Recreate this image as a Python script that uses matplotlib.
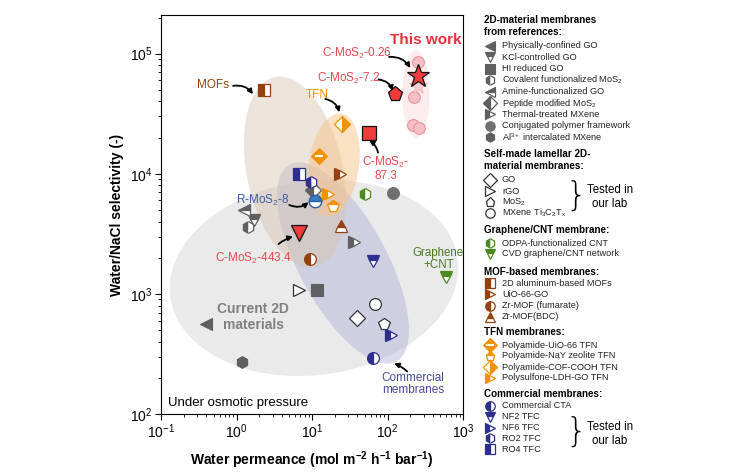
import numpy as np
import matplotlib
matplotlib.use("Agg")
import matplotlib.pyplot as plt
from matplotlib.patches import Polygon

plt.rcParams['font.family'] = ['Liberation Sans', 'DejaVu Sans']
plt.rcParams['mathtext.fontset'] = 'custom'
plt.rcParams['mathtext.rm'] = 'Liberation Sans'
plt.rcParams['mathtext.it'] = 'Liberation Sans:italic'
plt.rcParams['mathtext.bf'] = 'Liberation Sans:bold'
plt.rcParams['mathtext.default'] = 'regular'

# water permeance (mol m-2 h-1 bar-1) vs water/NaCl selectivity, one point per membrane
names = ["Physically-confined GO", "KCl-controlled GO", "HI reduced GO",
         "Covalent functionalized MoS$_2$", "Amine-functionalized GO",
         "Peptide modified MoS$_2$", "Thermal-treated MXene",
         "Conjugated polymer framework", "Al$^{3+}$ intercalated MXene",
         "GO", "rGO", "MoS$_2$", "MXene Ti$_3$C$_2$T$_x$",
         "ODPA-functionalized CNT", "CVD graphene/CNT network",
         "2D aluminum-based MOFs", "UiO-66-GO", "Zr-MOF (fumarate)", "Zr-MOF(BDC)",
         "Polyamide-UiO-66 TFN", "Polyamide-NaY zeolite TFN",
         "Polyamide-COF-COOH TFN", "Polysulfone-LDH-GO TFN",
         "Commercial CTA", "NF2 TFC", "NF6 TFC", "RO2 TFC", "RO4 TFC"]
perm = [0.40, 1.72, 11.5, 1.42, 1.27, 10.2, 36, 117, 1.18,
        40, 6.8, 91, 68,
        51, 594,
        2.3, 23.5, 9.4, 24.4,
        12.3, 19, 25, 16.4,
        64, 64, 110, 9.8, 6.8]
sel = [557, 4100, 1080, 3600, 5000, 7400, 2700, 6900, 270,
       630, 1080, 557, 820,
       6800, 1370,
       50000, 10000, 1950, 3700,
       14000, 5400, 26000, 6800,
       290, 1870, 456, 8500, 10000]

# this work (C-MoS2 / R-MoS2 membranes)
cmos_labels = ["C-MoS2-0.26", "C-MoS2-7.2", "C-MoS2-87.3", "C-MoS2-443.4"]
cmos_perm = [250, 126, 57, 6.8]
cmos_sel = [65000, 46000, 22000, 3200]
rmos_perm = [11.1]
rmos_sel = [5900]
work_circ_perm = [255, 225, 215, 263]
work_circ_sel = [86000, 44000, 25600, 24000]
work_star2_perm = [255]
work_star2_sel = [54000]

GREY = '#5f5f5f'
BROWN = '#93420f'
ORANGE = '#f39200'
BLUE = '#2e2f8c'
GREEN = '#4e8a22'
RED = '#ef3b3b'

# marker, colour, fillstyle ('full', 'left', 'none' = open white)
styles = [('<', GREY, 'full'), ('v', GREY, 'top'), ('s', GREY, 'full'),
          ('h', GREY, 'left'), ('<', GREY, 'top'), ('D', GREY, 'left'),
          ('>', GREY, 'left'), ('o', '#707070', 'full'), ('h', GREY, 'full'),
          ('D', None, 'none'), ('>', None, 'none'), ('p', None, 'none'), ('o', None, 'none'),
          ('h', GREEN, 'left'), ('v', GREEN, 'top'),
          ('s', BROWN, 'left'), ('>', BROWN, 'left'), ('o', BROWN, 'left'), ('^', BROWN, 'top'),
          ('D', ORANGE, 'stripe'), ('p', ORANGE, 'top'), ('D', ORANGE, 'right'), ('>', ORANGE, 'left'),
          ('o', BLUE, 'left'), ('v', BLUE, 'top'), ('>', BLUE, 'left'), ('h', BLUE, 'left'),
          ('s', BLUE, 'left')]


def draw_marker(ax, x, y, style, ms, z=5):
    m, c, fs = style
    if fs == 'none':
        ax.plot(x, y, m, ms=ms, mfc='white', mec='#333333', mew=0.9, zorder=z)
    elif fs == 'full':
        ax.plot(x, y, m, ms=ms, mfc=c, mec=c, mew=0.8, zorder=z)
    elif fs == 'stripe':
        ax.plot(x, y, m, ms=ms, mfc=c, mec=c, mew=0.8, zorder=z)
        ax.plot(x, y, '_', ms=ms * 0.75, mec='white', mew=1.5, zorder=z + 0.1)
    else:
        ax.plot(x, y, m, ms=ms, fillstyle=fs, mfc=c, mfcalt='white', mec=c, mew=0.9, zorder=z)


fig = plt.figure(figsize=(7.45, 4.75), dpi=100)
ax = fig.add_axes([161 / 745, 61 / 475, 302 / 745, 399 / 475])
ax.set_xscale('log')
ax.set_yscale('log')
ax.set_xlim(0.1, 1000)
ax.set_ylim(100, 2.1e5)

# shaded regions (in axes pixels from the lower-left corner)
W = 302.0
H = 399.0
blobs = [((153, 136), 145, 97, 7.5, '#dcdcdc', 0.6),
         ((182, 151), 44, 112, 28.5, '#aeb0d6', 0.45),
         ((134, 242), 48, 97, 12, '#d7c2ad', 0.45),
         ((173, 249), 25, 52, -8, '#f8c489', 0.5),
         ((255, 320), 13.5, 44, 0, '#f7c9cf', 0.35)]
t = np.linspace(0, 2 * np.pi, 200)
for (cx, cy), a, b, ang, col, al in blobs:
    r = np.deg2rad(ang)
    px = cx + a * np.cos(t) * np.cos(r) - b * np.sin(t) * np.sin(r)
    py = cy + a * np.cos(t) * np.sin(r) + b * np.sin(t) * np.cos(r)
    ax.add_patch(Polygon(np.c_[px / W, py / H], closed=True, transform=ax.transAxes,
                         fc=col, ec='none', alpha=al, zorder=1))

for x, y, st in zip(perm, sel, styles):
    draw_marker(ax, x, y, st, 8.5)

# this work
ax.plot(work_circ_perm, work_circ_sel, 'o', ms=8.5, mfc='#f4c0c6', mec='#e8959f', mew=0.8, zorder=4)
ax.plot(work_star2_perm, work_star2_sel, '*', ms=13, mfc='#f8d0d5', mec='#f0b0b8', mew=0.6, zorder=4)
ax.plot(rmos_perm, rmos_sel, 'o', ms=9, fillstyle='top', mfc='#3d7dc4', mfcalt='white',
        mec='#2d5f9e', mew=1.0, zorder=6)
for lab, x, y, m, ms in zip(cmos_labels, cmos_perm, cmos_sel, ['*', 'p', 's', 'v'], [17, 11, 9.5, 11]):
    ax.plot(x, y, m, ms=ms, mfc=RED, mec='#111111', mew=0.9, zorder=7)

arrow = dict(arrowstyle='-|>', color='black', lw=1.3, mutation_scale=7, shrinkA=0, shrinkB=0)
LRED = '#e5484f'
ax.text(322, 1.31e5, 'This work', color='#e8303a', fontsize=11, fontweight='bold',
        ha='center', va='center')
ax.text(40, 1.0e5, 'C-MoS$_2$-0.26', color=LRED, fontsize=8.5, ha='center', va='center')
ax.annotate('', xy=(200, 7.6e4), xytext=(105, 9.4e4),
            arrowprops=dict(arrow, connectionstyle='arc3,rad=-0.3'))
ax.text(30.5, 6.2e4, 'C-MoS$_2$-7.2', color=LRED, fontsize=8.5, ha='center', va='center')
ax.annotate('', xy=(118, 4.9e4), xytext=(76, 6.1e4),
            arrowprops=dict(arrow, connectionstyle='arc3,rad=-0.3'))
ax.text(95, 1.1e4, 'C-MoS$_2$-\n87.3', color=LRED, fontsize=8.5, ha='center', va='center',
        linespacing=1.0)
ax.annotate('', xy=(57, 1.9e4), xytext=(75, 1.5e4),
            arrowprops=dict(arrow, connectionstyle='arc3,rad=0.2'))
ax.text(1.67, 1.98e3, 'C-MoS$_2$-443.4', color=LRED, fontsize=8.5, ha='center', va='center')
ax.annotate('', xy=(5.6, 3.0e3), xytext=(3.6, 2.6e3),
            arrowprops=dict(arrow, connectionstyle='arc3,rad=-0.1'))
ax.text(2.26, 6.0e3, 'R-MoS$_2$-8', color='#3b5ea8', fontsize=8.5, ha='center', va='center')
ax.annotate('', xy=(9.0, 5.8e3), xytext=(5.0, 5.5e3),
            arrowprops=dict(arrow, connectionstyle='arc3,rad=0.3'))
ax.text(0.49, 5.5e4, 'MOFs', color=BROWN, fontsize=8.5, ha='center', va='center')
ax.annotate('', xy=(1.65, 4.6e4), xytext=(0.9, 5.4e4),
            arrowprops=dict(arrow, connectionstyle='arc3,rad=-0.3'))
ax.text(11.8, 4.5e4, 'TFN', color=ORANGE, fontsize=8.5, ha='center', va='center')
ax.annotate('', xy=(23, 3.25e4), xytext=(15, 4.2e4),
            arrowprops=dict(arrow, connectionstyle='arc3,rad=-0.3'))
ax.text(470, 1.95e3, 'Graphene\n+CNT', color='#4a7a20', fontsize=8.3, ha='center', va='center',
        linespacing=1.0)
ax.text(216, 178, 'Commercial\nmembranes', color='#4b4b9b', fontsize=8.5, ha='center', va='center',
        linespacing=1.0)
ax.annotate('', xy=(122, 264), xytext=(182, 226),
            arrowprops=dict(arrow, connectionstyle='arc3,rad=0.1'))
ax.text(1.67, 640, 'Current 2D\nmaterials', color='#808080', fontsize=10, fontweight='bold',
        ha='center', va='center', linespacing=1.15)
ax.text(0.023, 0.028, 'Under osmotic pressure', transform=ax.transAxes, fontsize=9.5,
        ha='left', va='center')

ax.set_xlabel('Water permeance (mol m$^{\\mathbf{-2}}$ h$^{\\mathbf{-1}}$ bar$^{\\mathbf{-1}}$)',
              fontsize=10, fontweight='bold', labelpad=6)
ax.set_ylabel('Water/NaCl selectivity (-)', fontsize=10, fontweight='bold', labelpad=4)
ax.tick_params(which='major', direction='out', length=4, width=0.8, labelsize=10, pad=2)
ax.tick_params(which='minor', direction='out', length=2, width=0.6)
for s in ax.spines.values():
    s.set_linewidth(0.8)

# legend panel (figure pixels)
lg = fig.add_axes([0, 0, 1, 1])
lg.set_xlim(0, 745)
lg.set_ylim(475, 0)
lg.axis('off')

sections = [("2D-material membranes\nfrom references:", 26, 46, 11.4, range(0, 9)),
            ("Self-made lamellar 2D-\nmaterial membranes:", 160, 180, 11.0, range(9, 13)),
            ("Graphene/CNT membrane:", 230, 243, 11.0, range(13, 15)),
            ("MOF-based membranes:", 272, 283, 11.3, range(15, 19)),
            ("TFN membranes:", 332, 345, 11.0, range(19, 23)),
            ("Commercial membranes:", 394, 406, 10.8, range(23, 28))]
for head, hy, y0, dy, idx in sections:
    lg.text(484, hy, head, fontsize=7.1, fontweight='bold', ha='left', va='center',
            linespacing=1.35)
    for k, i in enumerate(idx):
        y = y0 + k * dy
        draw_marker(lg, 490, y, styles[i], 6.8)
        lg.text(502, y, names[i], fontsize=6.6, ha='left', va='center', color='#222222')

for yc, ty in [(196, 197), (432, 434)]:
    lg.text(576, yc, '}', fontsize=24, ha='center', va='center', fontweight='light',
            family='DejaVu Sans')
    lg.text(610, ty, 'Tested in\nour lab', fontsize=8.3, ha='center', va='center', linespacing=1.2)

fig.savefig('out.png', dpi=100)
